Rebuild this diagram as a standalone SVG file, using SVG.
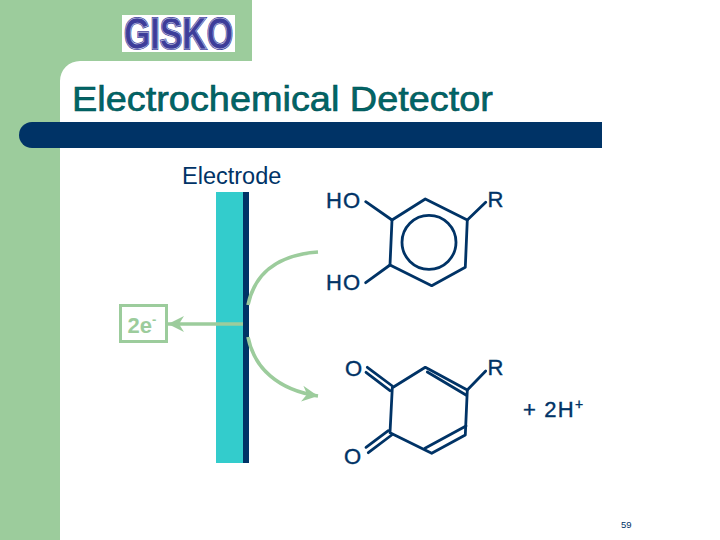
<svg xmlns="http://www.w3.org/2000/svg" width="720" height="540" viewBox="0 0 720 540">
<style>
text{font-family:"Liberation Sans",Arial,sans-serif}
.chem{font-size:22px;fill:#003366;stroke:#003366;stroke-width:.4;letter-spacing:1.2px}
.bond{fill:none;stroke:#003366;stroke-width:2.800;stroke-linecap:round;stroke-linejoin:round}
.green{fill:none;stroke:#9ccc9c;stroke-width:3.600}
</style>
<defs>
<marker id="head" markerUnits="userSpaceOnUse" markerWidth="20" markerHeight="20" refX="16" refY="9" orient="auto">
<path d="M0 1L16 9L0 17L5 9Z" fill="#9ccc9c"/>
</marker>
</defs>
<rect width="720" height="540" fill="#fff"/>
<g id="background">
<path d="M0 0H252V61H80A20 20 0 0 0 60 81V540H0Z" fill="#9ccc9c"/>
<path d="M32 122H602V148H32A13 13 0 0 1 32 122Z" fill="#003366"/>
</g>
<g id="logo">
<rect x="122" y="15" width="113" height="37" fill="#fff"/>
<text x="124" y="49" font-size="45" font-weight="bold" textLength="109" lengthAdjust="spacingAndGlyphs" style="fill:#3d3d99;stroke:#3d3d99;stroke-width:2">GISKO</text>
<text x="124" y="49" font-size="45" font-weight="bold" textLength="109" lengthAdjust="spacingAndGlyphs" style="fill:none;stroke:#d5daec;stroke-width:.6">GISKO</text>
</g>
<g id="title">
<text x="72" y="110.500" font-size="35" textLength="421" lengthAdjust="spacingAndGlyphs" style="fill:#006666;stroke:#004f55;stroke-width:.6">Electrochemical Detector</text>
</g>
<g id="electrode">
<rect x="216" y="192" width="27" height="271" fill="#33cccc"/>
<rect x="243" y="192" width="6" height="271" fill="#003366"/>
<text x="182" y="184" font-size="23.500" fill="#003366">Electrode</text>
</g>
<g id="connectors">
<path class="green" d="M248 305C254 276 275 255 318 252"/>
<path class="green" d="M248 337C254 368 278 390 318 396" marker-end="url(#head)"/>
<path class="green" d="M243 324H168" marker-end="url(#head)"/>
</g>
<g id="electrons">
<rect x="120.500" y="305.500" width="46" height="36" fill="#fff" stroke="#9ccc9c" stroke-width="3"/>
<text x="127.500" y="333" font-size="22" font-weight="bold" fill="#9ccc9c">2e<tspan font-size="13" dy="-9">-</tspan></text>
</g>
<g id="hydroquinone">
<path class="bond" d="M392 220L425.300 199L467.300 220L465.300 267.300L431.700 285.700L390 265Z"/>
<circle class="bond" cx="429" cy="242.300" r="27"/>
<path class="bond" d="M365.700 201.700L392 220M467.300 220L485.700 202.300M390 265L365.700 282.700"/>
<text class="chem" x="326" y="208">HO</text>
<text class="chem" x="326" y="290">HO</text>
<text class="chem" x="487.500" y="207">R</text>
</g>
<g id="quinone">
<path class="bond" d="M392.300 387.700L425.300 367.300L467.300 390L465.300 435L431.700 453.300L390 432.700Z"/>
<path class="bond" d="M427.300 372L466 395M425 448.300L466 426"/>
<path class="bond" d="M367.300 367.300L392.300 386M366 372.300L390 390.700M366 447.300L388.300 430.700M368.300 452.700L391.700 435M467.300 390L485.700 371"/>
<text class="chem" x="345" y="376">O</text>
<text class="chem" x="344" y="464">O</text>
<text class="chem" x="487.500" y="375">R</text>
<text class="chem" x="523" y="417">+ 2H<tspan font-size="14" dy="-8">+</tspan></text>
</g>
<g id="page-number">
<text x="621" y="528" font-size="9.500" fill="#003366">59</text>
</g>
</svg>
